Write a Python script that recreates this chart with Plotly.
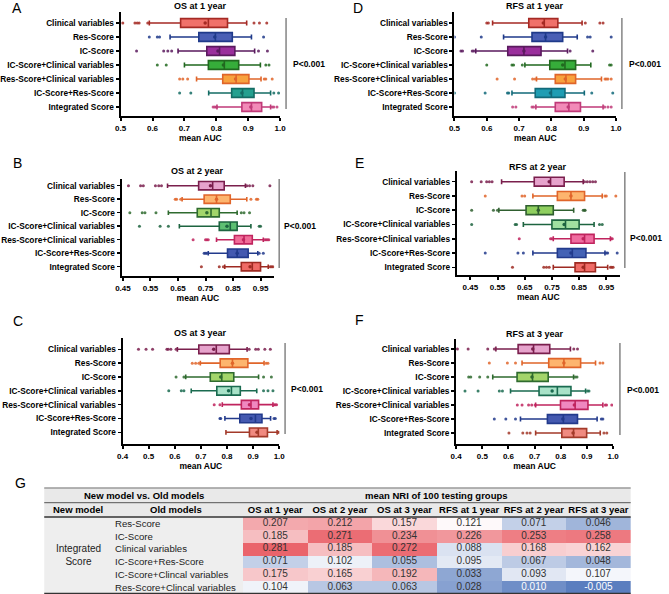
import plotly.graph_objects as go

W, H = 669, 594
FONT = "Liberation Sans, Arial, sans-serif"


def px(x):
    return x / W


def py(y):
    return 1 - y / H


categories = ["Clinical variables", "Res-Score", "IC-Score", "IC-Score+Clinical variables",
              "Res-Score+Clinical variables", "IC-Score+Res-Score", "Integrated Score"]

# ---------------- Panel A: OS at 1 year ----------------
a_low = [0.59, 0.655, 0.68, 0.70, 0.738, 0.776, 0.802]
a_q1 = [0.688, 0.745, 0.77, 0.775, 0.82, 0.848, 0.88]
a_median = [0.775, 0.797, 0.81, 0.825, 0.862, 0.882, 0.91]
a_q3 = [0.835, 0.85, 0.858, 0.87, 0.902, 0.918, 0.942]
a_high = [0.895, 0.91, 0.92, 0.938, 0.94, 0.97, 0.97]
a_mean = [0.765, 0.795, 0.805, 0.822, 0.86, 0.88, 0.908]
a_out = [[0.507, 0.545, 0.552, 0.558, 0.585, 0.918, 0.935, 0.958], [0.59, 0.615, 0.622, 0.948],
         [0.55, 0.635, 0.648, 0.66, 0.932, 0.96], [0.615, 0.643, 0.955, 0.965],
         [0.685, 0.695, 0.71, 0.95, 0.955, 0.975], [0.685, 0.72, 0.98, 0.995],
         [0.79, 0.795, 0.80, 0.975, 0.98, 0.99]]

# ---------------- Panel D: RFS at 1 year ----------------
d_low = [0.618, 0.652, 0.566, 0.718, 0.754, 0.678, 0.752]
d_q1 = [0.73, 0.74, 0.665, 0.795, 0.812, 0.75, 0.812]
d_median = [0.778, 0.782, 0.715, 0.842, 0.845, 0.80, 0.854]
d_q3 = [0.82, 0.835, 0.768, 0.875, 0.875, 0.842, 0.89]
d_high = [0.895, 0.88, 0.85, 0.922, 0.955, 0.902, 0.96]
d_mean = [0.775, 0.782, 0.715, 0.835, 0.843, 0.797, 0.852]
d_out = [[0.60, 0.605, 0.905, 0.95, 0.96], [0.50, 0.583, 0.912, 0.92, 0.985],
         [0.52, 0.525, 0.555, 0.56, 0.858, 0.928], [0.60, 0.678, 0.683, 0.71, 0.98, 0.985],
         [0.632, 0.686, 0.742, 0.75, 0.966, 0.97, 0.975, 0.985], [0.50, 0.595, 0.664, 0.668, 0.925, 0.99],
         [0.68, 0.69, 0.74, 0.745, 0.965, 0.975, 0.985]]

# ---------------- Panel B: OS at 2 year ----------------
b_low = [0.612, 0.665, 0.615, 0.655, 0.79, 0.76, 0.82]
b_q1 = [0.725, 0.745, 0.72, 0.80, 0.855, 0.83, 0.88]
b_median = [0.776, 0.79, 0.77, 0.84, 0.89, 0.865, 0.92]
b_q3 = [0.818, 0.84, 0.80, 0.865, 0.92, 0.905, 0.95]
b_high = [0.895, 0.90, 0.865, 0.915, 0.96, 0.94, 0.978]
b_mean = [0.768, 0.79, 0.755, 0.828, 0.888, 0.865, 0.912]
b_out = [[0.47, 0.514, 0.524, 0.568, 0.58, 0.59, 0.90, 0.91, 0.922, 0.984],
         [0.64, 0.645, 0.66, 0.915, 0.935, 0.94], [0.475, 0.52, 0.53, 0.57, 0.88, 0.89, 0.91],
         [0.51, 0.585, 0.615, 0.945, 0.95], [0.705, 0.75, 0.755, 0.76, 0.965, 0.97, 0.975, 0.98],
         [0.745, 0.75, 0.755, 0.945, 0.96], [0.735, 0.80, 0.815, 0.985, 0.99, 0.995]]

# ---------------- Panel E: RFS at 2 year ----------------
e_low = [0.565, 0.68, 0.555, 0.645, 0.755, 0.68, 0.755]
e_q1 = [0.685, 0.77, 0.655, 0.75, 0.82, 0.77, 0.835]
e_median = [0.745, 0.82, 0.70, 0.80, 0.87, 0.825, 0.87]
e_q3 = [0.795, 0.87, 0.755, 0.85, 0.905, 0.875, 0.91]
e_high = [0.865, 0.935, 0.83, 0.905, 0.965, 0.945, 0.955]
e_mean = [0.74, 0.82, 0.70, 0.795, 0.865, 0.82, 0.865]
e_out = [[0.455, 0.49, 0.51, 0.52, 0.53, 0.87, 0.88, 0.89, 0.90, 0.91], [0.505, 0.64, 0.65, 0.945, 0.95, 0.985],
         [0.455, 0.535, 0.55, 0.865, 0.87, 0.872], [0.455, 0.615, 0.62, 0.925, 0.935],
         [0.63, 0.745, 0.75, 0.968, 0.972], [0.505, 0.625, 0.645, 0.95, 0.955, 0.99],
         [0.605, 0.72, 0.73, 0.74, 0.965, 0.97, 0.975]]

# ---------------- Panel C: OS at 3 year ----------------
c_low = [0.61, 0.698, 0.642, 0.663, 0.782, 0.792, 0.796]
c_q1 = [0.692, 0.774, 0.736, 0.761, 0.855, 0.849, 0.886]
c_median = [0.759, 0.821, 0.78, 0.817, 0.892, 0.909, 0.92]
c_q3 = [0.809, 0.88, 0.826, 0.851, 0.921, 0.934, 0.955]
c_high = [0.877, 0.942, 0.921, 0.914, 0.976, 0.967, 0.992]
c_mean = [0.749, 0.821, 0.776, 0.806, 0.886, 0.892, 0.915]
c_out = [[0.461, 0.49, 0.515, 0.57, 0.575, 0.585, 0.605, 0.885, 0.91, 0.92, 0.945, 0.966],
         [0.667, 0.68, 0.692, 0.95, 0.957], [0.605, 0.635, 0.94, 0.97], [0.577, 0.625, 0.635, 0.94, 0.957, 0.976],
         [0.751, 0.773, 0.98, 0.985, 0.99], [0.773, 0.776, 0.98, 0.985], [0.998, 0.999]]

# ---------------- Panel F: RFS at 3 year ----------------
f_low = [0.552, 0.652, 0.54, 0.608, 0.704, 0.646, 0.704]
f_q1 = [0.637, 0.754, 0.633, 0.717, 0.799, 0.749, 0.804]
f_median = [0.696, 0.812, 0.692, 0.787, 0.855, 0.81, 0.849]
f_q3 = [0.758, 0.876, 0.752, 0.839, 0.904, 0.864, 0.899]
f_high = [0.837, 0.933, 0.849, 0.895, 0.961, 0.939, 0.951]
f_mean = [0.693, 0.812, 0.69, 0.767, 0.852, 0.808, 0.847]
f_out = [[0.405, 0.446, 0.521, 0.546, 0.85, 0.864], [0.527, 0.596, 0.627, 0.95, 0.961],
         [0.448, 0.456, 0.49, 0.521, 0.855, 0.862], [0.434, 0.484, 0.565, 0.577, 0.902, 0.908],
         [0.634, 0.652, 0.677, 0.689, 0.702, 0.97, 0.975, 0.995], [0.546, 0.59, 0.627, 0.955, 0.961],
         [0.602, 0.655, 0.671, 0.683, 0.965, 0.976]]

# ---------------- Table G ----------------
nri_columns = ["OS at 1 year", "OS at 2 year", "OS at 3 year", "RFS at 1 year", "RFS at 2 year", "RFS at 3 year"]
old_models = ["Res-Score", "IC-Score", "Clinical variables", "IC-Score+Res-Score",
              "IC-Score+Clincal variables", "Res-Score+Clincal variables"]
nri_values = [
    [0.207, 0.212, 0.157, 0.121, 0.071, 0.046],
    [0.185, 0.271, 0.234, 0.226, 0.253, 0.258],
    [0.281, 0.185, 0.272, 0.088, 0.168, 0.162],
    [0.071, 0.102, 0.055, 0.095, 0.067, 0.048],
    [0.175, 0.165, 0.192, 0.033, 0.093, 0.107],
    [0.104, 0.063, 0.063, 0.028, 0.010, -0.005],
]

# ---------------- styles ----------------
col_AD = [("#a52a24", "#f0716a"), ("#1f3a8a", "#4a5fb5"), ("#5a1a5e", "#9a2f9c"), ("#21681f", "#36ad3a"),
          ("#e0652a", "#f8a23e"), ("#146c64", "#24a08f"), ("#c03a78", "#f28ab8")]
col_D = list(col_AD)
col_D[5] = ("#126a7a", "#1f9db3")
col_B = [("#7a1f4d", "#e6a3cc"), ("#e0652a", "#fdb56e"), ("#2f6b2f", "#a3d56a"), ("#1d6440", "#5dbf72"),
         ("#c0245e", "#f06c98"), ("#223a8c", "#4459b0"), ("#9e2a22", "#ef6b66")]
col_E = [("#7a1f4d", "#e6a3cc"), ("#e0652a", "#fdb56e"), ("#2f5f2f", "#8fcf5f"), ("#1d6440", "#a0e0a0"),
         ("#c0245e", "#f06ca0"), ("#223a8c", "#4462b5"), ("#9e2a22", "#ef6b66")]
col_CF = [("#7a1f4d", "#e6a3cc"), ("#e0652a", "#fdb56e"), ("#2f6b2f", "#a3d56a"), ("#1a6b50", "#a8e2c8"),
          ("#c0245e", "#ef88c0"), ("#223a8c", "#4459b0"), ("#a33a2a", "#f08a80")]

panels = [
    dict(letter="A", title="OS at 1 year", stats=(a_low, a_q1, a_median, a_q3, a_high, a_mean, a_out), colors=col_AD,
         x0=115, x1=278, rng=[0.5, 1.0], ticks=[0.5, 0.6, 0.7, 0.8, 0.9, 1.0], fmt="%.1f",
         ytop=12, ybot=116, row0=23, row6=107, letter_xy=(2, 8), title_y=6, p_xy=(289, 64), pline=(284, 18, 109)),
    dict(letter="D", title="RFS at 1 year", stats=(d_low, d_q1, d_median, d_q3, d_high, d_mean, d_out), colors=col_D,
         x0=456, x1=621, rng=[0.5, 1.0], ticks=[0.5, 0.6, 0.7, 0.8, 0.9, 1.0], fmt="%.1f",
         ytop=12, ybot=116, row0=23, row6=107, letter_xy=(350, 8), title_y=6, p_xy=(632, 64), pline=(627, 18, 109)),
    dict(letter="B", title="OS at 2 year", stats=(b_low, b_q1, b_median, b_q3, b_high, b_mean, b_out), colors=col_B,
         x0=116, x1=272, rng=[0.445, 1.0], ticks=[0.45, 0.55, 0.65, 0.75, 0.85, 0.95], fmt="%.2f",
         ytop=179, ybot=276, row0=185.7, row6=266.7, letter_xy=(3, 163), title_y=171, p_xy=(280, 226), pline=(277, 179, 268)),
    dict(letter="E", title="RFS at 2 year", stats=(e_low, e_q1, e_median, e_q3, e_high, e_mean, e_out), colors=col_E,
         x0=458.3, x1=625, rng=[0.4, 1.0], ticks=[0.45, 0.55, 0.65, 0.75, 0.85, 0.95], fmt="%.2f",
         ytop=170.7, ybot=275, row0=181.7, row6=267.3, letter_xy=(352, 163), title_y=167, p_xy=(633, 238), pline=(630, 172, 268)),
    dict(letter="C", title="OS at 3 year", stats=(c_low, c_q1, c_median, c_q3, c_high, c_mean, c_out), colors=col_CF,
         x0=117, x1=277, rng=[0.4, 1.0], ticks=[0.4, 0.5, 0.6, 0.7, 0.8, 0.9, 1.0], fmt="%.1f",
         ytop=338, ybot=444, row0=349.3, row6=432.3, letter_xy=(3, 321), title_y=333, p_xy=(287, 389), pline=(283, 343, 434)),
    dict(letter="F", title="RFS at 3 year", stats=(f_low, f_q1, f_median, f_q3, f_high, f_mean, f_out), colors=col_CF,
         x0=457.7, x1=618, rng=[0.4, 1.0], ticks=[0.4, 0.5, 0.6, 0.7, 0.8, 0.9, 1.0], fmt="%.1f",
         ytop=339, ybot=444, row0=349, row6=433, letter_xy=(352, 320), title_y=334, p_xy=(630, 390), pline=(625, 343, 435)),
]

fig = go.Figure()
annotations = []
shapes = []
layout_axes = {}

for i, p in enumerate(panels, start=1):
    xa, ya = f"x{i}", f"y{i}"
    low, q1, med, q3, high, mean, outs = p["stats"]
    for k, cat in enumerate(categories):
        lc, fc = p["colors"][k]
        fig.add_trace(go.Box(
            y=[cat], q1=[q1[k]], median=[med[k]], q3=[q3[k]], lowerfence=[low[k]], upperfence=[high[k]],
            orientation="h", xaxis=xa, yaxis=ya, line=dict(color=lc, width=1.6), fillcolor=fc,
            width=0.62, whiskerwidth=0.55, boxpoints=False, showlegend=False, hoverinfo="skip"))
        fig.add_trace(go.Scatter(
            x=outs[k], y=[cat] * len(outs[k]), mode="markers", xaxis=xa, yaxis=ya,
            marker=dict(size=3, color=lc, opacity=0.85), showlegend=False, hoverinfo="skip"))
    fig.add_trace(go.Scatter(
        x=mean, y=categories, mode="markers", xaxis=xa, yaxis=ya,
        marker=dict(size=3.5, color=[c[0] for c in p["colors"]], symbol="circle"),
        showlegend=False, hoverinfo="skip"))

    step = (p["row6"] - p["row0"]) / 6
    r_top = -(p["row0"] - p["ytop"]) / step
    r_bot = 6 + (p["ybot"] - p["row6"]) / step
    layout_axes[f"xaxis{i}"] = dict(
        domain=[px(p["x0"]), px(p["x1"])], anchor=ya, range=p["rng"],
        tickvals=p["ticks"], ticktext=[p["fmt"] % t for t in p["ticks"]],
        showline=True, linewidth=2, linecolor="black", ticks="outside", ticklen=3, tickwidth=2,
        tickcolor="black", showgrid=False, zeroline=False,
        tickfont=dict(family=FONT, size=8, color="black", weight="bold"),
        title=dict(text="mean AUC", font=dict(family=FONT, size=8.5, color="black", weight="bold"), standoff=0))
    layout_axes[f"yaxis{i}"] = dict(
        domain=[py(p["ybot"]), py(p["ytop"])], anchor=xa, type="category",
        categoryorder="array", categoryarray=categories, range=[r_bot, r_top],
        showline=True, linewidth=2, linecolor="black", ticks="outside", ticklen=3, tickwidth=1.5,
        tickcolor="black", showgrid=False, zeroline=False,
        tickfont=dict(family=FONT, size=8.3, color="black", weight="bold"))

    annotations.append(dict(text=p["letter"], x=px(p["letter_xy"][0]), y=py(p["letter_xy"][1]),
                            xref="paper", yref="paper", xanchor="left", yanchor="middle", showarrow=False,
                            font=dict(family=FONT, size=14, color="black")))
    annotations.append(dict(text=p["title"], x=px((p["x0"] + p["x1"]) / 2), y=py(p["title_y"]),
                            xref="paper", yref="paper", xanchor="center", yanchor="middle", showarrow=False,
                            font=dict(family=FONT, size=9, color="black", weight="bold")))
    annotations.append(dict(text="P<0.001", x=px(p["p_xy"][0]), y=py(p["p_xy"][1]),
                            xref="paper", yref="paper", xanchor="left", yanchor="middle", showarrow=False,
                            font=dict(family=FONT, size=8.5, color="black", weight="bold")))
    lx, ly0, ly1 = p["pline"]
    shapes.append(dict(type="line", xref="paper", yref="paper", x0=px(lx), x1=px(lx), y0=py(ly0), y1=py(ly1),
                       line=dict(color="#8c8c8c", width=1.6)))

# ---------------- Table G ----------------
T_L, T_R, T_TOP, T_H1, T_H2, T_BOT, C_SPLIT = 37, 636, 488, 502.7, 517, 593.5, 240
shapes += [
    dict(type="rect", xref="paper", yref="paper", x0=px(T_L), x1=px(T_R), y0=py(T_H2), y1=py(T_TOP),
         fillcolor="#e9e9e9", line=dict(width=0), layer="below"),
    dict(type="rect", xref="paper", yref="paper", x0=px(T_L), x1=px(C_SPLIT), y0=py(T_BOT), y1=py(T_H2),
         fillcolor="#eeeeee", line=dict(width=0), layer="below"),
    dict(type="line", xref="paper", yref="paper", x0=px(T_L), x1=px(T_R), y0=py(T_TOP), y1=py(T_TOP),
         line=dict(color="#9a9a9a", width=1.5)),
    dict(type="line", xref="paper", yref="paper", x0=px(T_L), x1=px(T_R), y0=py(T_H1), y1=py(T_H1),
         line=dict(color="#555555", width=1)),
    dict(type="line", xref="paper", yref="paper", x0=px(T_L), x1=px(T_R), y0=py(T_H2), y1=py(T_H2),
         line=dict(color="#333333", width=1.5)),
    dict(type="line", xref="paper", yref="paper", x0=px(T_L), x1=px(T_R), y0=py(T_BOT), y1=py(T_BOT),
         line=dict(color="#333333", width=1.5)),
]

zmin, zmax, zwhite = -0.005, 0.281, 0.115
mid = (zwhite - zmin) / (zmax - zmin)
fig.add_trace(go.Heatmap(
    z=nri_values, x=nri_columns, y=old_models, xaxis="x7", yaxis="y7",
    colorscale=[[0, "#5a7ebf"], [mid, "#ffffff"], [1, "#ea646b"]], zmin=zmin, zmax=zmax,
    showscale=False, hoverinfo="skip"))
txt_x, txt_y, txt_s, txt_c = [], [], [], []
for r, m in enumerate(old_models):
    for c, col in enumerate(nri_columns):
        v = nri_values[r][c]
        txt_x.append(col)
        txt_y.append(m)
        txt_s.append(f"{v:.3f}")
        txt_c.append("#ffffff" if v < 0.02 else "#333333")
fig.add_trace(go.Scatter(
    x=txt_x, y=txt_y, text=txt_s, mode="text", xaxis="x7", yaxis="y7",
    textfont=dict(family=FONT, size=10, color=txt_c), showlegend=False, hoverinfo="skip"))

layout_axes["xaxis7"] = dict(domain=[px(C_SPLIT), px(T_R)], anchor="y7", type="category",
                             categoryorder="array", categoryarray=nri_columns, range=[-0.5, 5.5],
                             side="top", showline=False, ticks="", showgrid=False, zeroline=False,
                             tickfont=dict(family=FONT, size=9.5, color="black", weight="bold"),
                             ticklabelstandoff=1)
layout_axes["yaxis7"] = dict(domain=[py(T_BOT), py(T_H2)], anchor="x7", type="category",
                             categoryorder="array", categoryarray=old_models, range=[5.5, -0.5],
                             showticklabels=False, showline=False, ticks="", showgrid=False, zeroline=False)

for m in old_models:
    annotations.append(dict(text=m, x=px(107), y=m, xref="paper", yref="y7", xanchor="left", yanchor="middle",
                            showarrow=False, font=dict(family=FONT, size=9.6, color="#222222")))
annotations += [
    dict(text="G", x=px(5), y=py(483), xref="paper", yref="paper", xanchor="left", yanchor="middle",
         showarrow=False, font=dict(family=FONT, size=14, color="black")),
    dict(text="New model vs. Old models", x=px((T_L + C_SPLIT) / 2), y=py((T_TOP + T_H1) / 2), xref="paper",
         yref="paper", xanchor="center", yanchor="middle", showarrow=False,
         font=dict(family=FONT, size=9.5, color="black", weight="bold")),
    dict(text="mean NRI of 100 testing groups", x=px((C_SPLIT + T_R) / 2), y=py((T_TOP + T_H1) / 2),
         xref="paper", yref="paper", xanchor="center", yanchor="middle", showarrow=False,
         font=dict(family=FONT, size=9.5, color="black", weight="bold")),
    dict(text="New model", x=px(72), y=py((T_H1 + T_H2) / 2), xref="paper", yref="paper", xanchor="center",
         yanchor="middle", showarrow=False, font=dict(family=FONT, size=9.5, color="black", weight="bold")),
    dict(text="Old models", x=px(172), y=py((T_H1 + T_H2) / 2), xref="paper", yref="paper", xanchor="center",
         yanchor="middle", showarrow=False, font=dict(family=FONT, size=9.5, color="black", weight="bold")),
    dict(text="Integrated<br>Score", x=px(72), y=py(554.5), xref="paper", yref="paper", xanchor="center",
         yanchor="middle", showarrow=False, font=dict(family=FONT, size=10, color="#222222")),
]

fig.update_layout(
    width=W, height=H, autosize=False, margin=dict(l=0, r=0, t=0, b=0, pad=0),
    paper_bgcolor="white", plot_bgcolor="white", showlegend=False, boxmode="overlay",
    hovermode=False, annotations=annotations, shapes=shapes, **layout_axes)

fig.write_html("out.html", config={"displayModeBar": False, "staticPlot": True},
               post_script="document.body.style.margin='0px';document.body.style.padding='0px';"
                           "document.body.style.overflow='hidden';")
